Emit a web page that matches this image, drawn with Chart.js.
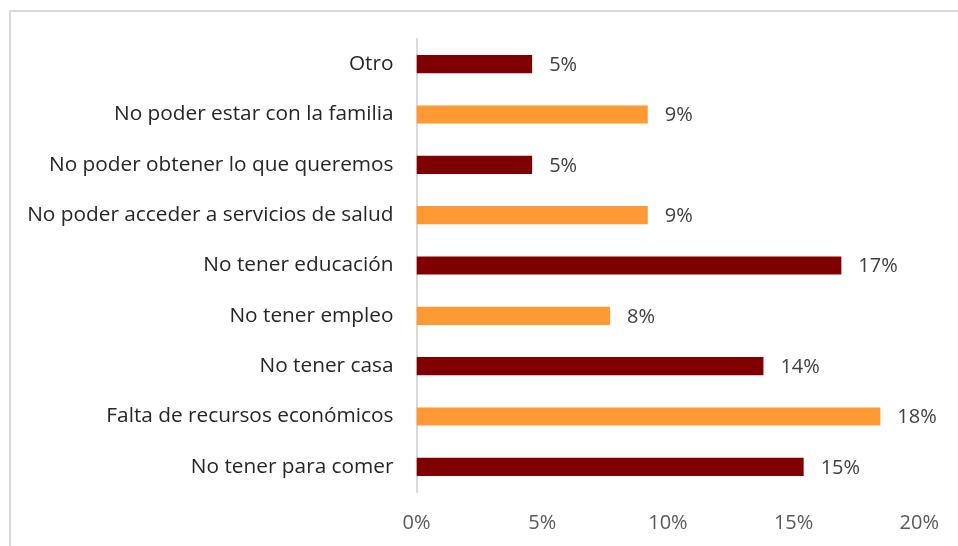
<!DOCTYPE html>
<html>
<head>
<meta charset="utf-8">
<script src="https://cdn.jsdelivr.net/npm/chart.js@4"></script>
<style>
  html, body { margin: 0; padding: 0; background: #ffffff; overflow: hidden; }
  #wrap { position: relative; width: 958px; height: 546px; }
  #frame { position: absolute; left: 9px; top: 10px; width: 1000px; height: 600px; border: 2px solid #d9d9d9; box-sizing: border-box; }
  canvas { position: absolute; left: 0; top: 0; }
</style>
</head>
<body>
<div id="wrap">
  <div id="frame"></div>
  <canvas id="c" width="958" height="546"></canvas>
</div>
<script>
const categories = [
  "Otro",
  "No poder estar con la familia",
  "No poder obtener lo que queremos",
  "No poder acceder a servicios de salud",
  "No tener educación",
  "No tener empleo",
  "No tener casa",
  "Falta de recursos económicos",
  "No tener para comer"
];
const values = [4.6, 9.2, 4.6, 9.2, 16.9, 7.7, 13.8, 18.45, 15.4];
const barColors = ["#7f0000", "#ff9933", "#7f0000", "#ff9933", "#7f0000", "#ff9933", "#7f0000", "#ff9933", "#7f0000"];
const xTicks = [0, 5, 10, 15, 20];

const FONT = "'Open Sans', sans-serif";

const valueLabels = {
  id: 'valueLabels',
  afterDatasetsDraw(chart) {
    const ctx = chart.ctx;
    const meta = chart.getDatasetMeta(0);
    ctx.save();
    ctx.font = "20px " + FONT;
    ctx.fillStyle = "#404040";
    ctx.textAlign = "left";
    ctx.textBaseline = "middle";
    meta.data.forEach((bar, i) => {
      ctx.fillText(Math.round(values[i]) + "%", bar.x + 17, bar.y + 1);
    });
    ctx.restore();
  }
};

new Chart(document.getElementById('c'), {
  type: 'bar',
  data: {
    labels: categories,
    datasets: [{
      data: values,
      backgroundColor: barColors,
      borderWidth: 0,
      barPercentage: 0.36,
      categoryPercentage: 1.0
    }]
  },
  options: {
    indexAxis: 'y',
    responsive: false,
    animation: false,
    devicePixelRatio: 1,
    layout: { padding: { left: 0, right: 38, top: 39, bottom: 0 } },
    plugins: {
      legend: { display: false },
      tooltip: { enabled: false }
    },
    scales: {
      x: {
        min: 0,
        max: 20,
        afterBuildTicks(scale) { scale.ticks = xTicks.map(v => ({ value: v })); },
        afterFit(scale) { scale.height = 54; },
        grid: { display: false, drawTicks: false },
        border: { display: false },
        ticks: {
          color: "#595959",
          font: { family: FONT, size: 20 },
          padding: 19,
          callback: v => v + "%"
        }
      },
      y: {
        afterFit(scale) { scale.width = 416.5; },
        grid: { display: false, drawTicks: false },
        border: { display: true, color: "#d9d9d9", width: 2 },
        ticks: {
          color: "#262626",
          font: { family: FONT, size: 20.8 },
          padding: 23
        }
      }
    }
  },
  plugins: [valueLabels]
});
</script>
</body>
</html>
